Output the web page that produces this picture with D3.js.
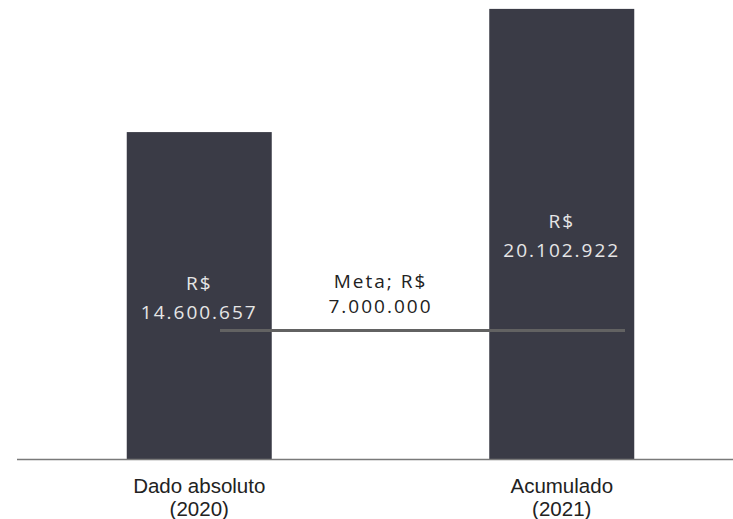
<!DOCTYPE html>
<html>
<head>
<meta charset="utf-8">
<script src="https://cdn.jsdelivr.net/npm/d3@7"></script>
<style>
  body { margin: 0; background: #fff; }
  svg { display: block; }
</style>
</head>
<body>
<svg width="733" height="519"></svg>
<script>
const categories = ["Dado absoluto (2020)", "Acumulado (2021)"];
const valores = [14600657, 20102922];
const meta = [7000000, 7000000];
const metaLabel = ["Meta; R$", "7.000.000"];

const width = 733, baseLine = 459;
const svg = d3.select('svg');

// escala das categorias
const x = d3.scaleBand()
  .domain(categories)
  .range([18, 743])
  .paddingInner(0.6)
  .paddingOuter(0.3);

// eixo principal (barras) e secundario (meta)
const y = d3.scaleLinear().domain([0, 20500000]).range([baseLine, 0]);
const y2 = d3.scaleLinear().domain([0, 25000000]).range([baseLine, 0]);
const xMeta = d3.scalePoint().domain(categories).range([220, 625]);

const fmt = v => "R$|" + d3.format(",")(v).replace(/,/g, ".");

svg.append('g')
  .selectAll('rect')
  .data(valores)
  .enter()
  .append('rect')
  .attr('x', (d, i) => x(categories[i]))
  .attr('y', d => y(d))
  .attr('width', x.bandwidth())
  .attr('height', d => baseLine - y(d))
  .attr('fill', '#3a3b46');

// linha da meta
svg.append('path')
  .datum(meta)
  .attr('d', d3.line().x((d, i) => xMeta(categories[i])).y(d => y2(d)))
  .attr('stroke', '#626262')
  .attr('stroke-width', 3)
  .attr('fill', 'none');

// eixo x
const gx = svg.append('g')
  .attr('transform', `translate(0, ${baseLine})`)
  .call(d3.axisBottom(x).tickSize(0).tickFormat(''));
gx.select('path').remove();
svg.append('line')
  .attr('x1', 17).attr('x2', width)
  .attr('y1', baseLine + 0.5).attr('y2', baseLine + 0.5)
  .attr('stroke', '#7a7a7a').attr('stroke-width', 1.5);

// rotulos das categorias
categories.forEach(c => {
  const parts = c.split(' (');
  const cx = x(c) + x.bandwidth() / 2;
  const t = svg.append('text')
    .attr('text-anchor', 'middle')
    .style('font-family', '"Liberation Sans", Arial, sans-serif')
    .style('font-size', '20.5px')
    .attr('fill', '#222');
  t.append('tspan').attr('x', cx).attr('y', 493).text(parts[0]);
  t.append('tspan').attr('x', cx).attr('y', 516).text('(' + parts[1]);
});

// rotulos dos valores
valores.forEach((v, i) => {
  const cx = x(categories[i]) + x.bandwidth() / 2;
  const cy = (y(v) + baseLine) / 2;
  const lines = fmt(v).split('|');
  const t = svg.append('text')
    .attr('text-anchor', 'middle')
    .style('font-family', '"Open Sans", sans-serif')
    .style('font-size', '19px')
    .style('letter-spacing', '2px')
    .attr('fill', '#e6e6e6');
  t.append('tspan').attr('x', cx).attr('y', cy - 6).text(lines[0]);
  t.append('tspan').attr('x', cx).attr('y', cy + 23).text(lines[1]);
});

// rotulo da meta
const mx = (x(categories[0]) + x(categories[1]) + x.bandwidth()) / 2;
const mt = svg.append('text')
  .attr('text-anchor', 'middle')
  .style('font-family', '"Open Sans", sans-serif')
  .style('font-size', '19px')
  .style('letter-spacing', '2px')
  .attr('fill', '#222');
mt.append('tspan').attr('x', mx).attr('y', 288).text(metaLabel[0]);
mt.append('tspan').attr('x', mx).attr('y', 313).text(metaLabel[1]);
</script>
</body>
</html>
